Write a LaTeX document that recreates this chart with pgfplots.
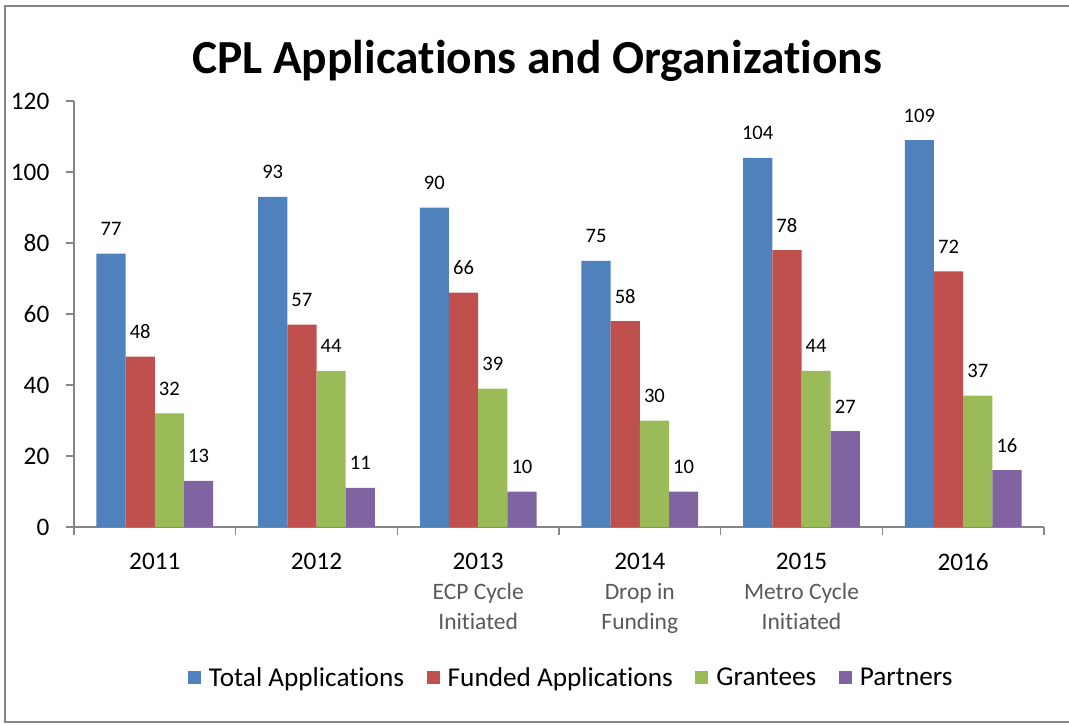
\documentclass[border=0pt]{standalone}
\usepackage{pgfplots}
\pgfplotsset{compat=1.18}
\usepackage{fontspec}
\setmainfont[Ligatures=NoCommon]{Carlito}
\definecolor{cblue}{HTML}{4F81BD}
\definecolor{cred}{HTML}{C0504D}
\definecolor{cgreen}{HTML}{9BBB59}
\definecolor{cpurple}{HTML}{8064A2}
\definecolor{axgray}{HTML}{868686}
\definecolor{subgray}{HTML}{595959}
\newcommand{\sub}[1]{{\color{subgray}\fontsize{17.7}{22.5}\selectfont #1}}
\begin{document}
\begin{tikzpicture}
\begin{axis}[
  /pgf/number format/assume math mode=true,
  scale only axis, width=727.5bp, height=319.5bp,
  at={(0,0)}, anchor=south west,
  xmin=-0.5, xmax=5.5, ymin=0, ymax=120,
  ybar=0pt, bar width=21.9bp,
  every axis plot/.append style={draw=none,
    legend image code/.code={\fill[##1] (0bp,-4.9bp) rectangle (9.75bp,4.9bp);}},
  axis x line*=bottom, axis y line*=left,
  axis line style={axgray, line width=0.9bp},
  tick style={axgray, line width=0.9bp},
  tick align=outside,
  major tick length=6bp,
  ytick={0,20,...,120},
  yticklabel style={font=\fontsize{19}{22.5}\selectfont, black, xshift=-9bp},
  xtick={-0.5,0.5,...,5.5},
  xticklabels={,,,,,,},
  extra x ticks={0,1,2,3,4,5},
  extra x tick labels={2011,2012,{2013\\\sub{ECP Cycle}\\\sub{Initiated}},{2014\\\sub{Drop in}\\\sub{Funding}},{2015\\\sub{Metro Cycle}\\\sub{Initiated}},2016},
  extra x tick style={major tick length=0pt, xticklabel style={align=center, anchor=north, yshift=-16bp}},
  xticklabel style={font=\fontsize{19}{22.5}\selectfont, black},
  nodes near coords,
  every node near coord/.append style={font=\fontsize{15.5}{18}\selectfont, black, anchor=base, inner sep=0pt, yshift=13.5bp},
  legend columns=4,
  legend style={at={(0.513,-0.354)}, anchor=center, draw=none, fill=none,
    font=\fontsize{20.5}{24}\selectfont,
    /tikz/every even column/.append style={column sep=15bp},
    /tikz/every odd column/.append style={column sep=4bp}},
  clip=false,
]
\addplot[fill=cblue] coordinates {(0,77) (1,93) (2,90) (3,75) (4,104) (5,109)};
\addplot[fill=cred] coordinates {(0,48) (1,57) (2,66) (3,58) (4,78) (5,72)};
\addplot[fill=cgreen] coordinates {(0,32) (1,44) (2,39) (3,30) (4,44) (5,37)};
\addplot[fill=cpurple] coordinates {(0,13) (1,11) (2,10) (3,10) (4,27) (5,16)};
\legend{Total Applications, Funded Applications, Grantees, Partners}
\end{axis}
\node[anchor=base, font=\bfseries\fontsize{35.7}{40}\selectfont] at (347.25bp,339.75bp) {CPL Applications and Organizations};
\draw[axgray, line width=1.5bp] (760bp,390.75bp) -- (-51.75bp,390.75bp) -- (-51.75bp,-146.25bp) -- (760bp,-146.25bp);
\pgfresetboundingbox
\useasboundingbox (-55.5bp,-148.5bp) rectangle (746.25bp,395.25bp);
\end{tikzpicture}
\end{document}
